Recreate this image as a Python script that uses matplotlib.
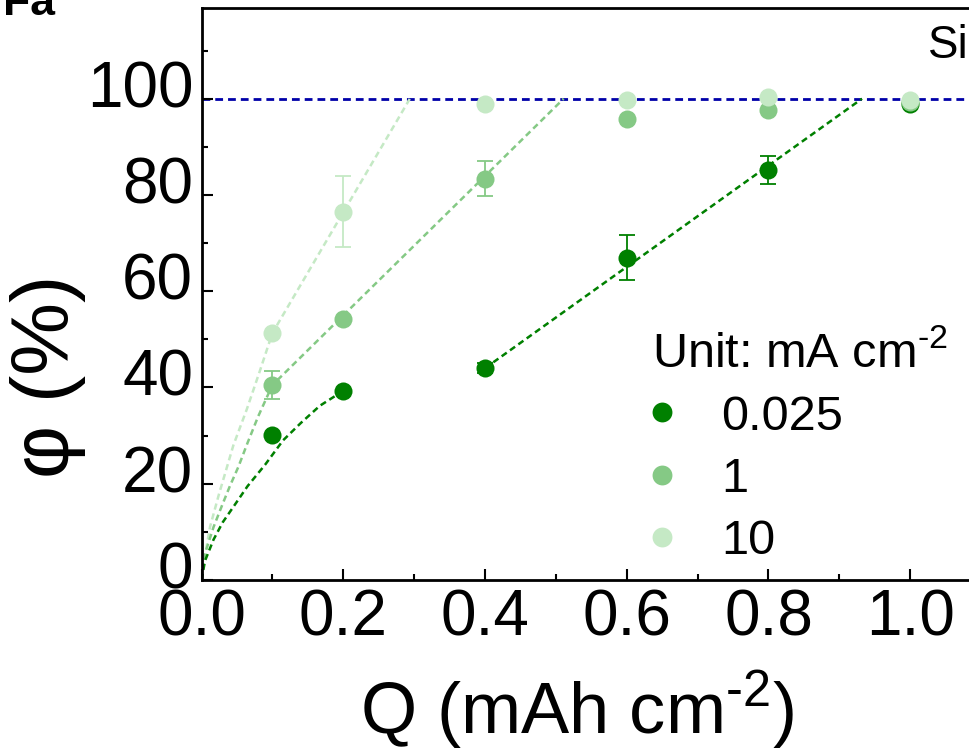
import matplotlib
matplotlib.use("Agg")
import matplotlib.pyplot as plt
from matplotlib.ticker import MultipleLocator, FormatStrFormatter
from matplotlib.transforms import ScaledTranslation

plt.rcParams['font.family'] = ['Liberation Sans', 'DejaVu Sans']
plt.rcParams['mathtext.fontset'] = 'custom'
plt.rcParams['mathtext.rm'] = 'Liberation Sans'
plt.rcParams['mathtext.it'] = 'Liberation Sans:italic'
plt.rcParams['mathtext.default'] = 'regular'

# Areal capacity (mAh cm-2)
q = [0.1, 0.2, 0.4, 0.6, 0.8, 1.0]

# Current densities (mA cm-2)
current_labels = ['0.025', '1', '10']

# Measured phi (%) and error bars for each current density
phi_0025 = [30.1, 39.3, 44.0, 67.0, 85.1, 99.0]
err_0025 = [0.0, 0.0, 1.0, 4.6, 2.9, 0.0]
phi_1 = [40.5, 54.2, 83.4, 95.7, 97.6, 99.3]
err_1 = [2.9, 0.0, 3.7, 0.0, 0.0, 0.0]
phi_10 = [51.3, 76.5, 99.0, 99.7, 100.4, 99.8]
err_10 = [0.0, 7.4, 0.0, 0.0, 0.0, 0.0]

# Guide-to-the-eye curves (Q, phi)
guide_0025_low_q = [0.0, 0.005, 0.017, 0.03, 0.045, 0.065, 0.09, 0.115, 0.14, 0.167, 0.2]
guide_0025_low_phi = [0.0, 4.0, 8.4, 12.0, 15.2, 19.5, 24.0, 29.0, 32.6, 36.2, 39.3]
guide_0025_high_q = [0.4, 0.932]
guide_0025_high_phi = [44.0, 100.0]
guide_1_q = [0.0, 0.005, 0.017, 0.029, 0.040, 0.052, 0.065, 0.08, 0.1, 0.511]
guide_1_phi = [0.0, 5.5, 11.0, 15.5, 19.5, 23.5, 28.5, 34.0, 40.5, 100.0]
guide_10_q = [0.0, 0.003, 0.012, 0.024, 0.035, 0.045, 0.064, 0.0825, 0.1, 0.294]
guide_10_phi = [0.0, 3.5, 11.0, 17.5, 23.0, 28.0, 35.5, 43.5, 51.3, 100.0]

full_coverage = 100.0

# Axis ticks
x_major_ticks = [0.0, 0.2, 0.4, 0.6, 0.8, 1.0]
y_major_ticks = [0, 20, 40, 60, 80, 100]

colors = ['#008000', '#85c985', '#c5e9c5']

W, H = 969, 754
fig = plt.figure(figsize=(W / 100, H / 100), dpi=100)
x0_px, y0_px = 201.5, 580.0
px_per_q = 708.7
xmax = 1.1
top_px = 7.5
y100_px = 98.7
ax_w_px = xmax * px_per_q
ax_h_px = y0_px - top_px
ax = fig.add_axes([x0_px / W, (H - y0_px) / H, ax_w_px / W, ax_h_px / H])

ymax = 100 + (y100_px - top_px) / ((y0_px - y100_px) / 100.0)
ax.set_xlim(0, xmax)
ax.set_ylim(0, ymax)

# 100 % reference line
ax.axhline(full_coverage, xmin=0, xmax=1, color='#0000a8', lw=2.0,
           dashes=(2.8, 1.8), zorder=1)

# Guide curves
guide_kw = dict(lw=1.8, dashes=(2.5, 1.6), zorder=1.5)
ax.plot(guide_10_q, guide_10_phi, color=colors[2], **guide_kw)
ax.plot(guide_1_q, guide_1_phi, color=colors[1], **guide_kw)
ax.plot(guide_0025_low_q, guide_0025_low_phi, color=colors[0], **guide_kw)
ax.plot(guide_0025_high_q, guide_0025_high_phi, color=colors[0], **guide_kw)

# Data points with error bars
handles = []
for phi, err, c, lab in zip([phi_0025, phi_1, phi_10], [err_0025, err_1, err_10],
                            colors, current_labels):
    cont = ax.errorbar(q, phi, yerr=err, fmt='o', ms=13, color=c,
                       ecolor=c, elinewidth=1.3, capsize=5.5, capthick=1.3,
                       label=lab, zorder=3)
    cont[0].set_markeredgewidth(0)
    handles.append(cont[0])

# Axes styling
for side in ['left', 'bottom', 'top', 'right']:
    ax.spines[side].set_linewidth(2.0)
ax.set_xticks(x_major_ticks)
ax.set_yticks(y_major_ticks)
ax.xaxis.set_minor_locator(MultipleLocator(0.1))
ax.yaxis.set_minor_locator(MultipleLocator(10))
ax.xaxis.set_major_formatter(FormatStrFormatter('%.1f'))
ax.yaxis.set_major_formatter(FormatStrFormatter('%d'))
ax.tick_params(which='major', direction='in', length=8, width=1.5,
               labelsize=46, pad=6, top=False, right=False)
ax.tick_params(which='minor', direction='in', length=4, width=1.5,
               top=False, right=False)

# y tick labels sit slightly above their ticks
lift = ScaledTranslation(0, 15 / 100, fig.dpi_scale_trans)
for lbl in ax.get_yticklabels():
    lbl.set_transform(lbl.get_transform() + lift)

ax.set_xlabel(r'Q (mAh cm$^{\text{-2}}$)', fontsize=52)
ax.xaxis.set_label_coords((577 - x0_px) / ax_w_px, -(733 - y0_px) / ax_h_px)
ax.xaxis.label.set_va('baseline')
ax.set_ylabel('φ (%)', fontsize=59)
ax.yaxis.set_label_coords(-(x0_px - 48) / ax_w_px, (y0_px - 376) / ax_h_px)
ax.yaxis.label.set_va('center')

leg = ax.legend(handles, current_labels, title=r'Unit: mA cm$^{\text{-2}}$',
                loc='upper left', bbox_to_anchor=(652 / W, 1 - 331 / H),
                bbox_transform=fig.transFigure, frameon=False, fontsize=35,
                title_fontsize=35, handlelength=0.42, handletextpad=1.0,
                labelspacing=0.36, borderpad=0, borderaxespad=0,
                markerscale=1.1, alignment='left')

fig.text(928 / W, 1 - 58 / H, 'Si', fontsize=33, va='baseline', ha='left')
fig.text(3 / W, 1 - 15 / H, 'Fa', fontsize=32, fontweight='bold',
         va='baseline', ha='left')

fig.savefig('out.png', dpi=100)
